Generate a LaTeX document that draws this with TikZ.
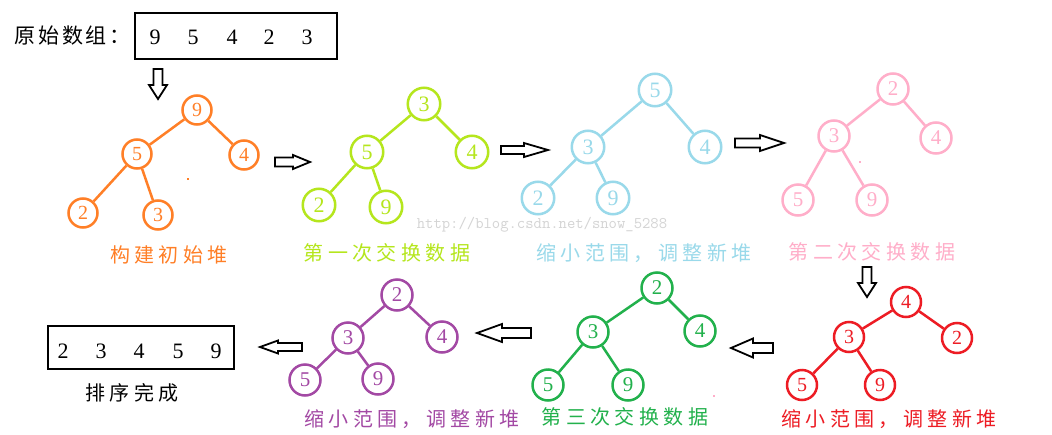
\documentclass[tikz,border=0pt]{standalone}
\usepackage{fontspec}
\newfontfamily\cjk[LetterSpace=22]{Noto Sans CJK SC}
\newfontfamily\cjkk[LetterSpace=14]{Noto Sans CJK SC}
\newfontfamily\dig{Liberation Serif}
\definecolor{corange}{HTML}{FF7F27}
\definecolor{cyg}{HTML}{B5E61D}
\definecolor{cblue}{HTML}{99D9EA}
\definecolor{cpink}{HTML}{FFAEC9}
\definecolor{cred}{HTML}{ED1C24}
\definecolor{cgreen}{HTML}{22B14C}
\definecolor{cpurple}{HTML}{A349A4}
\definecolor{cwm}{HTML}{D4D4D4}
\tikzset{
  hn/.style 2 args={circle, draw=#1, text=#1, line width=2.5pt, inner sep=0pt,
     minimum size=#2, font=\dig\fontsize{20}{20}\selectfont},
  he/.style={draw=#1, line width=2.5pt},
  lab/.style={text=#1, inner sep=0pt, font=\cjk\fontsize{20}{20}\selectfont},
  barrow/.style={draw=black, line width=1.8pt, fill=white, line join=miter},
  numbox/.style={draw=black, line width=2.4pt, inner sep=0pt},
  digit/.style={inner sep=0pt, font=\dig\fontsize{22}{22}\selectfont},
  dot/.style={fill=#1, inner sep=0pt, minimum size=2.5pt}
}
\begin{document}
\begin{tikzpicture}[x=1pt,y=-1pt]
\useasboundingbox (0,0) rectangle (1052,434);
\fill[white] (0,0) rectangle (1052,434);

% original array
\node[anchor=west, inner sep=0pt, font=\cjkk\fontsize{21}{21}\selectfont] (title) at (14,36) {原始数组：};
\node[numbox, minimum width=202pt, minimum height=46pt] (inbox) at (236,36) {};
\node[digit] (i1) at (155,37) {9};
\node[digit] (i2) at (193,37) {5};
\node[digit] (i3) at (232,37) {4};
\node[digit] (i4) at (269,37) {2};
\node[digit] (i5) at (307,37) {3};

% result array
\node[numbox, minimum width=186pt, minimum height=43pt] (outbox) at (141,347.5) {};
\node[digit] (r1) at (63,351) {2};
\node[digit] (r2) at (101,351) {3};
\node[digit] (r3) at (139,351) {4};
\node[digit] (r4) at (178,351) {5};
\node[digit] (r5) at (216,351) {9};
\node[lab=black] (done) at (132,393) {排序完成};

% block arrows
\draw[barrow] (153.5,69) -- (162.5,69) -- (162.5,85) -- (167,85) -- (158,99) -- (149,85) -- (153.5,85) -- cycle;
\draw[barrow] (275,157.5) -- (293,157.5) -- (293,155) -- (310,162) -- (293,169) -- (293,166.5) -- (275,166.5) -- cycle;
\draw[barrow] (501,146) -- (524,146) -- (524,143) -- (548,150) -- (524,157) -- (524,154) -- (501,154) -- cycle;
\draw[barrow] (735,138.5) -- (760,138.5) -- (760,135) -- (784,143) -- (760,151) -- (760,147.5) -- (735,147.5) -- cycle;
\draw[barrow] (862.5,267) -- (871.5,267) -- (871.5,283) -- (876,283) -- (867,297) -- (858,283) -- (862.5,283) -- cycle;
\draw[barrow] (773,343) -- (753,343) -- (753,338.5) -- (731,348) -- (753,357.5) -- (753,353) -- (773,353) -- cycle;
\draw[barrow] (531,328) -- (502,328) -- (502,324) -- (477,333) -- (502,342) -- (502,338) -- (531,338) -- cycle;
\draw[barrow] (302,343) -- (278,343) -- (278,340.5) -- (260,347) -- (278,353.5) -- (278,351) -- (302,351) -- cycle;

% watermark
\node[text=cwm, inner sep=0pt, font=\ttfamily\fontsize{16.2}{16.2}\selectfont] (wm) at (542,225) {http://blog.csdn.net/snow\_5288};

% tree 1: orange
\begin{scope}[every node/.append style={hn={corange}{29pt}}]
\node (o9) at (197,110) {9};
\node (o5) at (137,154) {5};
\node (o4) at (244,155) {4};
\node (o2) at (83,213) {2};
\node (o3) at (158,215) {3};
\end{scope}
\draw[he=corange] (o9) -- (o5); \draw[he=corange] (o9) -- (o4);
\draw[he=corange] (o5) -- (o2); \draw[he=corange] (o5) -- (o3);
\node[dot=corange] (od) at (188,179) {};
\node[lab=corange] (ol) at (169,255) {构建初始堆};

% tree 2: yellow green
\begin{scope}[every node/.append style={hn={cyg}{32.5pt}, font=\dig\fontsize{22}{22}\selectfont}]
\node (g3) at (424,104) {3};
\node (g5) at (367,152) {5};
\node (g4) at (472,152) {4};
\node (g2) at (319,205) {2};
\node (g9) at (386,207) {9};
\end{scope}
\draw[he=cyg] (g3) -- (g5); \draw[he=cyg] (g3) -- (g4);
\draw[he=cyg] (g5) -- (g2); \draw[he=cyg] (g5) -- (g9);
\node[lab=cyg] (gl) at (387,253) {第一次交换数据};

% tree 3: light blue
\begin{scope}[every node/.append style={hn={cblue}{32.5pt}, font=\dig\fontsize{22}{22}\selectfont}]
\node (b5) at (655,90) {5};
\node (b3) at (588,147) {3};
\node (b4) at (705,147) {4};
\node (b2) at (538,198) {2};
\node (b9) at (613,198) {9};
\end{scope}
\draw[he=cblue] (b5) -- (b3); \draw[he=cblue] (b5) -- (b4);
\draw[he=cblue] (b3) -- (b2); \draw[he=cblue] (b3) -- (b9);
\node[lab=cblue] (bl) at (644,253) {缩小范围，调整新堆};

% tree 4: pink
\begin{scope}[every node/.append style={hn={cpink}{31pt}, font=\dig\fontsize{21}{21}\selectfont}]
\node (p2) at (893,89) {2};
\node (p3) at (834,136) {3};
\node (p4) at (936,138) {4};
\node (p5) at (798,200) {5};
\node (p9) at (872,200) {9};
\end{scope}
\draw[he=cpink] (p2) -- (p3); \draw[he=cpink] (p2) -- (p4);
\draw[he=cpink] (p3) -- (p5); \draw[he=cpink] (p3) -- (p9);
\node[dot=cpink] (pd) at (860,162) {};
\node[lab=cpink] (pl) at (872,252) {第二次交换数据};

% tree 5: red
\begin{scope}[every node/.append style={hn={cred}{30pt}}]
\node (d4) at (906,302) {4};
\node (d3) at (849,337) {3};
\node (d2) at (957,338) {2};
\node (d5) at (802,385) {5};
\node (d9) at (880,385) {9};
\end{scope}
\draw[he=cred] (d4) -- (d3); \draw[he=cred] (d4) -- (d2);
\draw[he=cred] (d3) -- (d5); \draw[he=cred] (d3) -- (d9);
\node[lab=cred] (dl) at (889,419) {缩小范围，调整新堆};

% tree 6: green
\begin{scope}[every node/.append style={hn={cgreen}{31pt}, font=\dig\fontsize{21}{21}\selectfont}]
\node (n2) at (657,288) {2};
\node (n3) at (593,332) {3};
\node (n4) at (700,331) {4};
\node (n5) at (548,385) {5};
\node (n9) at (628,385) {9};
\end{scope}
\draw[he=cgreen] (n2) -- (n3); \draw[he=cgreen] (n2) -- (n4);
\draw[he=cgreen] (n3) -- (n5); \draw[he=cgreen] (n3) -- (n9);
\node[dot=cpink] (nd) at (714,396) {};
\node[lab=cgreen] (nl) at (625,417) {第三次交换数据};

% tree 7: purple
\begin{scope}[every node/.append style={hn={cpurple}{31pt}, font=\dig\fontsize{21}{21}\selectfont}]
\node (u2) at (397,295) {2};
\node (u3) at (348,338) {3};
\node (u4) at (442,337) {4};
\node (u5) at (305,380) {5};
\node (u9) at (378,379) {9};
\end{scope}
\draw[he=cpurple] (u2) -- (u3); \draw[he=cpurple] (u2) -- (u4);
\draw[he=cpurple] (u3) -- (u5); \draw[he=cpurple] (u3) -- (u9);
\node[lab=cpurple] (ul) at (412,419) {缩小范围，调整新堆};
\end{tikzpicture}
\end{document}
